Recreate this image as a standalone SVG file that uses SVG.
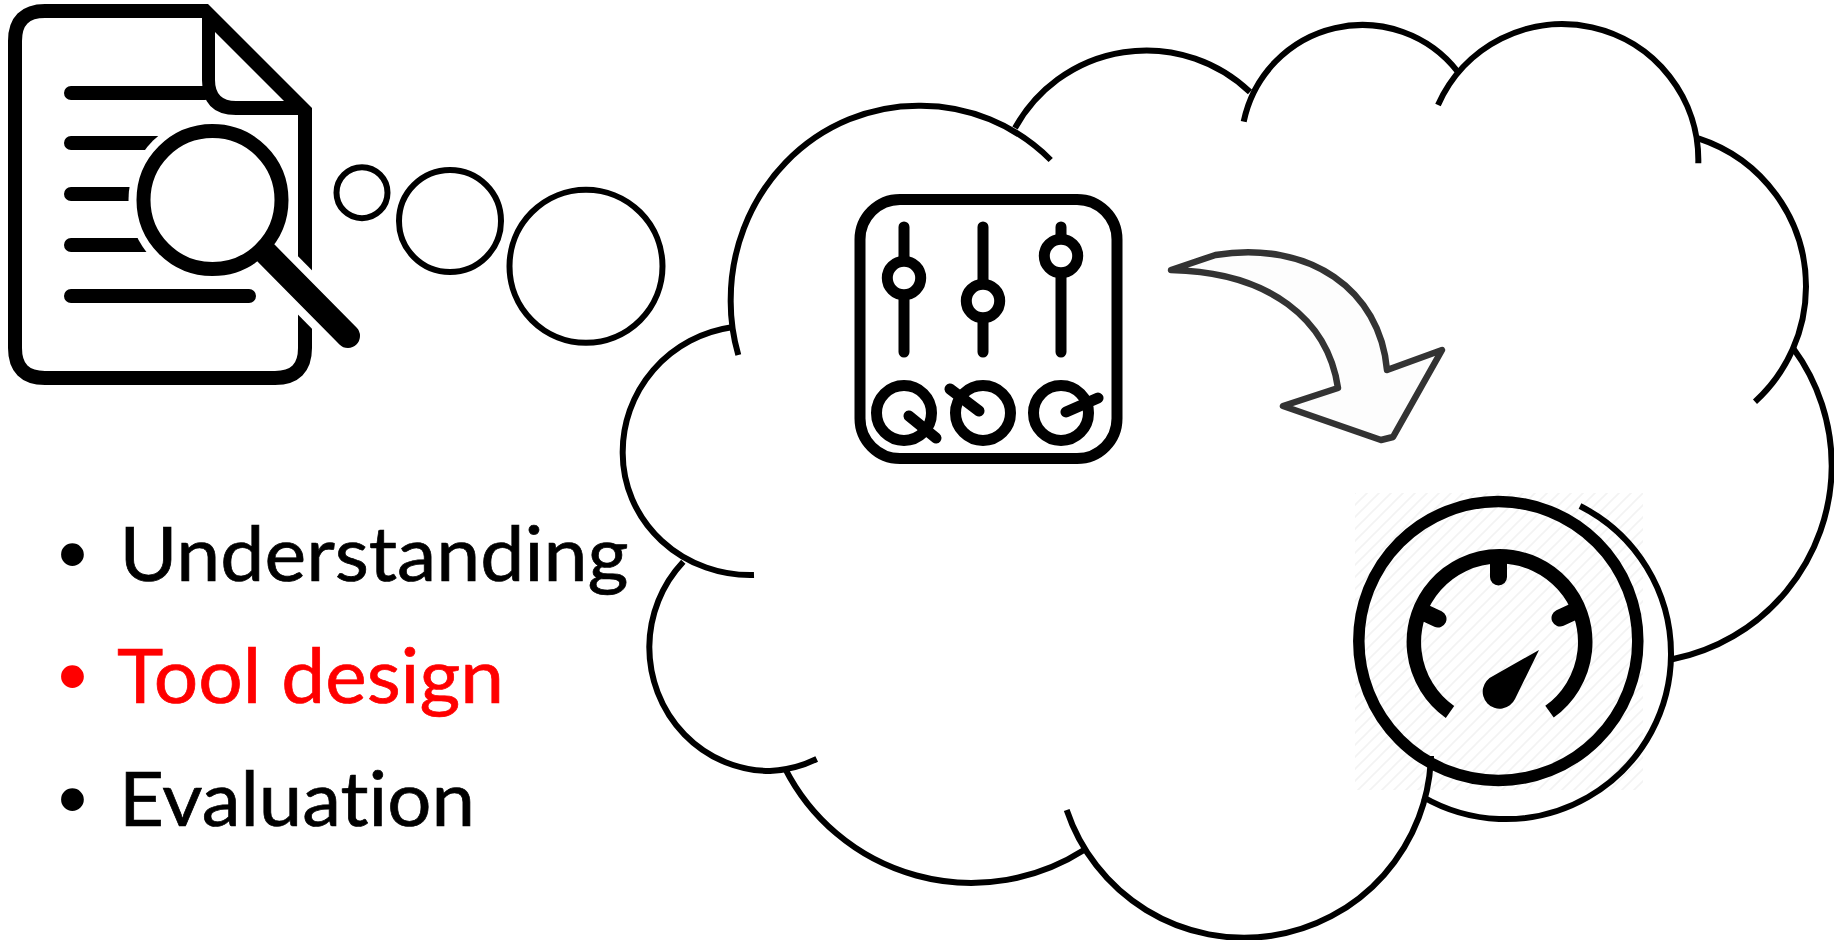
<svg xmlns="http://www.w3.org/2000/svg" width="1834" height="940" viewBox="0 0 1834 940">
  <style>
    .arc{fill:none;stroke:#000;stroke-width:6}
    .bub{fill:#fff;stroke:#000;stroke-width:6}
    .page{fill:none;stroke:#000;stroke-width:14}
    .doc{fill:none;stroke:#000;stroke-width:14;stroke-linecap:round}
    .ink{fill:none;stroke:#000;stroke-width:11;stroke-linecap:round}
    .knob{fill:#fff;stroke:#000;stroke-width:11}
    .item{font-family:"Lato","Liberation Sans",sans-serif;font-size:75px;font-variant-ligatures:none;stroke-width:.7}
    .blk{fill:#000;stroke:#000}
    .red{fill:#f00;stroke:#f00}
    .dot{font-family:"Liberation Sans",sans-serif;font-size:84px;text-anchor:middle}
  </style>
  <defs>
    <pattern id="hatch" width="12" height="12" patternUnits="userSpaceOnUse">
      <path d="M-2,14 L14,-2 M-2,2 L2,-2 M10,14 L14,10" stroke="#f3f3f3" stroke-width="1.6" fill="none"/>
    </pattern>
  </defs>
  <rect width="1834" height="940" fill="#fff"/>

  <rect id="gauge-hatch" x="1355" y="493" width="288" height="297" fill="url(#hatch)"/>

  <g id="cloud">
    <path class="arc" d="M738.3,355 A190,190 0 0 1 730.7,300 A187.6,194 0 0 1 918.3,105.7 A187,194 0 0 1 1050.7,160"/>
    <path class="arc" d="M1015,128 A150,150 0 0 1 1250,92"/>
    <path class="arc" d="M1243.7,121.7 A121,121 0 0 1 1458,72"/>
    <path class="arc" d="M1438,105 A136,136 0 0 1 1698.3,163.3"/>
    <path class="arc" d="M1698.3,138.3 A156,156 0 0 1 1806,286.7 A156,156 0 0 1 1755,401.7"/>
    <path class="arc" d="M1793,348 A198,198 0 0 1 1831.7,466.7 A198,198 0 0 1 1672.3,659.3"/>
    <path class="arc" d="M1580,506 A165.4,165.4 0 0 1 1671,655 A165.4,165.4 0 0 1 1423,797"/>
    <path class="arc" d="M1066.7,810 A187,187 0 0 0 1431,756"/>
    <path class="arc" d="M785,768.3 A209,209 0 0 0 1084,850"/>
    <path class="arc" d="M683.3,561.7 A121,124 0 0 0 649.3,646.7 A121,124 0 0 0 770,771 A121,124 0 0 0 816.7,759"/>
    <path class="arc" d="M731.7,327.3 A127.5,126 0 0 0 622.7,453.3 A127.5,122 0 0 0 754,575"/>
  </g>

  <g id="bubbles">
    <circle class="bub" cx="362" cy="192.7" r="25.5"/>
    <circle class="bub" cx="450" cy="221" r="51"/>
    <circle class="bub" cx="586" cy="266.3" r="76.5"/>
  </g>

  <g id="document-icon">
    <path class="page" d="M208,11 H45 Q15,11 15,41 V348 Q15,378 45,378 H275 Q305,378 305,348 V108"/>
    <path fill="#000" fill-rule="evenodd" d="M202,11 L208,4 L312,108 V115 H236 Q202,115 202,80 Z M215,32 V80 Q215,101 236,101 H284 Z"/>
    <path class="doc" d="M71,93 H205 M71,143 H170 M71,194 H170 M71,245 H170 M71,296 H249"/>
    <line x1="266" y1="253" x2="348" y2="336" stroke="#fff" stroke-width="41"/>
    <circle cx="212.5" cy="200" r="84" fill="#fff"/>
    <circle cx="212.5" cy="200" r="69" fill="#fff" stroke="#000" stroke-width="14"/>
    <line x1="266" y1="253" x2="348" y2="336" stroke="#000" stroke-width="24" stroke-linecap="round"/>
  </g>

  <g id="mixer-icon">
    <rect x="860" y="199.5" width="257" height="259" rx="40" ry="40" fill="#fff" stroke="#000" stroke-width="11"/>
    <path class="ink" d="M904,227 V352 M983,227 V352 M1061,227 V352"/>
    <circle class="knob" cx="904" cy="278" r="16.7"/>
    <circle class="knob" cx="983" cy="301" r="16.7"/>
    <circle class="knob" cx="1061" cy="256" r="16.7"/>
    <circle class="knob" cx="904" cy="413" r="27.5"/>
    <circle class="knob" cx="983" cy="413" r="27.5"/>
    <circle class="knob" cx="1061" cy="413" r="27.5"/>
    <path class="ink" d="M909,416 L936,438 M979,411 L950,389 M1066,412 L1098,398"/>
  </g>

  <g id="curved-arrow">
    <path d="M1171,270 L1215.5,255 C1310,240 1380,290 1387,370 L1442,350 L1393,437 L1381,440 L1283,406 L1338,388 C1328,320 1270,272 1171,270 Z" fill="#fdfdfd" stroke="#333" stroke-width="6.5" stroke-linejoin="round"/>
  </g>

  <g id="gauge-icon">
    <circle cx="1498.3" cy="641" r="139.5" fill="none" stroke="#000" stroke-width="11.5"/>
    <path d="M1450,712 A85.7,85.7 0 1 1 1549.5,711.7" fill="none" stroke="#000" stroke-width="14.5"/>
    <path d="M1498.5,560 V577 M1423,612 L1438,619 M1573,612 L1560,618" fill="none" stroke="#000" stroke-width="17" stroke-linecap="round"/>
    <path d="M1539,650 L1493,676 A17,17 0 1 0 1515,699 Z" fill="#000"/>
  </g>

  <g id="list">
    <text class="dot" x="72.4" y="582">•</text>
    <text class="item blk" x="119.5" y="581" textLength="509" lengthAdjust="spacingAndGlyphs">Understanding</text>
    <text class="dot" x="72.4" y="704" fill="#f00">•</text>
    <text class="item red" x="117" y="702.7" textLength="387" lengthAdjust="spacingAndGlyphs">Tool design</text>
    <text class="dot" x="72.4" y="827">•</text>
    <text class="item blk" x="119" y="825.7" textLength="356" lengthAdjust="spacingAndGlyphs">Evaluation</text>
  </g>
</svg>
